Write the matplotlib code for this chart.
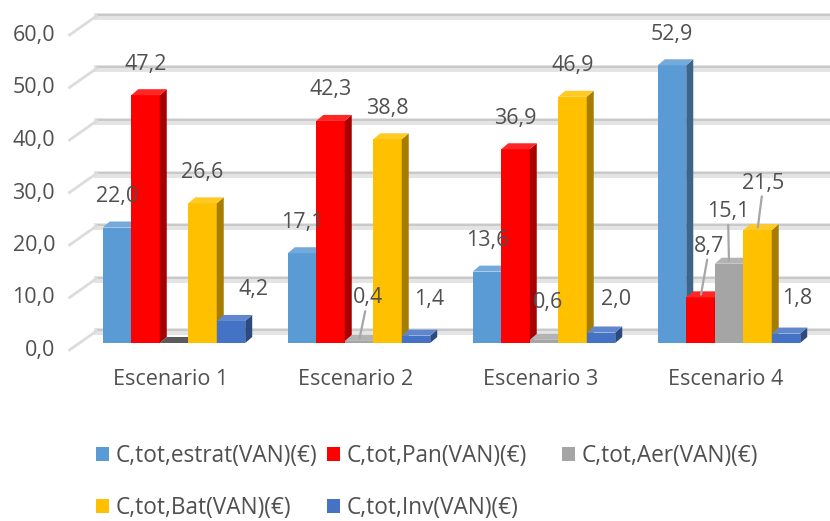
import matplotlib
matplotlib.use("Agg")
import matplotlib.pyplot as plt
import numpy as np
from matplotlib.patches import Polygon, Patch
from matplotlib.lines import Line2D
from matplotlib.transforms import IdentityTransform, ScaledTranslation
from matplotlib.colors import to_rgb

plt.rcParams['font.family'] = ['Open Sans', 'DejaVu Sans']

# data
escenarios = ["Escenario 1", "Escenario 2", "Escenario 3", "Escenario 4"]
series_names = ["C,tot,estrat(VAN)(€)", "C,tot,Pan(VAN)(€)", "C,tot,Aer(VAN)(€)",
                "C,tot,Bat(VAN)(€)", "C,tot,Inv(VAN)(€)"]
estrat = [22.0, 17.1, 13.6, 52.9]
pan = [47.2, 42.3, 36.9, 8.7]
aer = [0.0, 0.4, 0.6, 15.1]
bat = [26.6, 38.8, 46.9, 21.5]
inv = [4.2, 1.4, 2.0, 1.8]
colors = ["#5B9BD5", "#FF0000", "#A5A5A5", "#FFC000", "#4472C4"]
yticks = [0, 10, 20, 30, 40, 50, 60]

values = [estrat, pan, aer, bat, inv]
txt = "#505050"
fs = 15.5

def fmt(v):
    return f"{v:.1f}".replace('.', ',')

W, H = 830, 521
fig = plt.figure(figsize=(W / 100, H / 100), dpi=100)
ax = fig.add_axes([81.5 / W, (H - 343) / H, 740 / W, 315 / H])
ax.set_xlim(-0.5, 3.5)
ax.set_ylim(0, 60)
ax.patch.set_visible(False)
for sp in ax.spines.values():
    sp.set_visible(False)

# y ticks
ax.set_yticks(yticks)
ax.set_yticklabels([fmt(v) for v in yticks], fontsize=fs, color=txt)
ax.tick_params(axis='y', length=0, pad=19)
for lab in ax.get_yticklabels():
    lab.set_transform(lab.get_transform() + ScaledTranslation(0, -0.05, fig.dpi_scale_trans))

x = np.arange(len(escenarios))
ax.set_xticks(x)
ax.set_xticklabels(escenarios, fontsize=fs, color=txt)
ax.tick_params(axis='x', length=0, pad=19)
for lab in ax.get_xticklabels():
    lab.set_transform(lab.get_transform() + ScaledTranslation(-0.03, 0, fig.dpi_scale_trans))

# back wall gridlines (pseudo 3D)
ident = IdentityTransform()
left_px = ax.transData.transform((-0.5, 0))[0]
for v in yticks:
    fy = ax.transData.transform((0, v))[1]
    ax.add_line(Line2D([left_px + 15, W], [fy + 12, fy + 12], color="#e4e4e4", lw=5,
                       transform=ident, clip_on=False, zorder=0))
    ax.add_line(Line2D([left_px + 15, W], [fy + 13, fy + 13], color="#c4c4c4", lw=1.2,
                       transform=ident, clip_on=False, zorder=0.5))
    ax.add_line(Line2D([left_px - 12, left_px + 15], [fy - 7, fy + 12], color="#dcdcdc", lw=2,
                       transform=ident, clip_on=False, zorder=0.5))

# bars with side and top faces
w = 0.154
ddx, ddy = 7, 6
for s, (vals, col) in enumerate(zip(values, colors)):
    bars = ax.bar(x + (s - 2) * w, vals, w, color=col, linewidth=0, zorder=3 + s)
    rgb = np.array(to_rgb(col))
    side_c = rgb * 0.65
    top_c = rgb * 0.85 + 0.15
    for b in bars:
        x0, y0 = ax.transData.transform((b.get_x(), 0))
        x1, y1 = ax.transData.transform((b.get_x() + b.get_width(), b.get_height()))
        side = Polygon([(x1, y0), (x1 + ddx, y0 + ddy), (x1 + ddx, y1 + ddy), (x1, y1)],
                       closed=True, facecolor=side_c, edgecolor='none',
                       transform=ident, clip_on=False, zorder=3 + s)
        top = Polygon([(x0, y1), (x0 + ddx, y1 + ddy), (x1 + ddx, y1 + ddy), (x1, y1)],
                      closed=True, facecolor=top_c if b.get_height() > 0 else rgb * 0.55,
                      edgecolor='none', transform=ident, clip_on=False, zorder=3 + s)
        ax.add_patch(side)
        ax.add_patch(top)

# data labels
label_offsets = {
    (4, 0): (23, 31),
    (2, 1): (9, 43), (4, 1): (13, 36),
    (2, 2): (4, 37), (4, 2): (15, 33),
    (1, 3): (9, 51), (2, 3): (-1, 52), (3, 3): (6, 47), (4, 3): (11, 35),
}
leaders = {(2, 1), (1, 3), (2, 3), (3, 3)}
for s, vals in enumerate(values):
    for g, v in enumerate(vals):
        if v == 0:
            continue
        dx, dy = label_offsets.get((s, g), (0, 31))
        ap = None
        if (s, g) in leaders:
            ap = dict(arrowstyle='-', color='#A6A6A6', lw=1.6, shrinkA=0, shrinkB=2)
        ax.annotate(fmt(v), xy=(g + (s - 2) * w, v), xytext=(dx, dy),
                    textcoords='offset pixels', ha='center', va='center',
                    fontsize=fs, color=txt, arrowprops=ap, zorder=10,
                    annotation_clip=False)

# legend: one block per column so columns sit where Excel put them
lfs = 16.3
columns = [[0, 3], [1, 4], [2]]
col_left = [96, 327, 562]
for idx, cx in zip(columns, col_left):
    handles = [Patch(facecolor=colors[i], edgecolor='none', label=series_names[i]) for i in idx]
    fig.legend(handles=handles, loc='upper left', bbox_to_anchor=(cx / W, (H - 444) / H),
               frameon=False, fontsize=lfs, labelcolor=txt, handlelength=0.57, handleheight=0.57,
               handletextpad=0.28, labelspacing=1.22, borderpad=0, borderaxespad=0)

fig.savefig("out.png", dpi=100)
